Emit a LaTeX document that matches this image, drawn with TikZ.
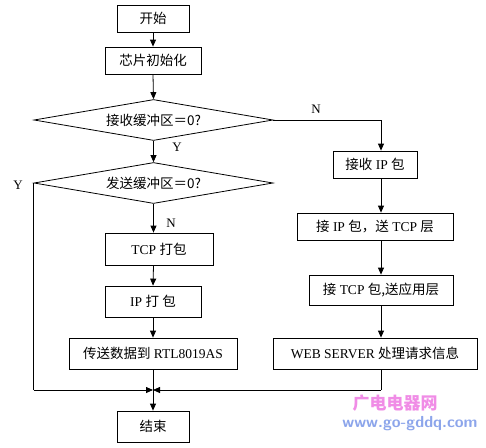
\documentclass[tikz,border=0pt]{standalone}
\usepackage{fontspec}
\setmainfont{Liberation Serif}
\newfontfamily\cjk{Noto Sans CJK SC}
\usetikzlibrary{shapes.geometric,arrows.meta}
\definecolor{wmpink}{RGB}{240,140,230}
\definecolor{wmblue}{RGB}{140,165,235}
\tikzset{
  box/.style={draw, line width=0.8pt, inner sep=0pt, fill=white},
  dia/.style={draw, line width=0.8pt, diamond, aspect=5.83, minimum width=239pt, minimum height=41pt, inner sep=0pt},
  arr/.style={line width=0.8pt, -{Triangle[width=6pt,length=7pt]}},
  ln/.style={line width=0.8pt},
  lab/.style={inner sep=0pt, font=\fontsize{13}{15}\selectfont},
}
\begin{document}
\begin{tikzpicture}[x=1pt,y=-1pt, every node/.append style={font=\fontsize{13.5}{16}\selectfont}]
\useasboundingbox[fill=white] (0,0) rectangle (486,447);
% left column
\node[box, minimum width=72pt, minimum height=27pt] (start) at (153,18.5) {\cjk 开始};
\node[box, minimum width=96pt, minimum height=27pt] (init) at (153,60.5) {\cjk 芯片初始化};
\node[dia] (d1) at (153.5,120) {\cjk 接收缓冲区＝0?};
\node[dia] (d2) at (153.5,183) {\cjk 发送缓冲区＝0?};
\node[box, minimum width=108pt, minimum height=32pt] (tcp) at (159,249) {TCP {\cjk 打包}};
\node[box, minimum width=96pt, minimum height=31pt] (ip) at (153,301.5) {IP {\cjk 打} {\cjk 包}};
\node[box, minimum width=168pt, minimum height=31pt] (send) at (153,353.5) {{\cjk 传送数据到} RTL8019AS};
\node[box, minimum width=72pt, minimum height=31pt] (end) at (153,426.5) {\cjk 结束};
% right column
\node[box, minimum width=84pt, minimum height=27pt] (rip) at (375,164.5) {{\cjk 接收} IP {\cjk 包}};
\node[box, minimum width=156pt, minimum height=27pt] (rtcp) at (375,226.5) {{\cjk 接} IP {\cjk 包，送} TCP {\cjk 层}};
\node[box, minimum width=144pt, minimum height=30pt] (rapp) at (381,290) {{\cjk 接} TCP {\cjk 包,送应用层}};
\node[box, minimum width=204pt, minimum height=31pt] (web) at (375,353.5) {WEB SERVER {\cjk 处理请求信息}};
\coordinate (merge) at (153,390);
\coordinate (rtop) at (381,120);
% connectors
\draw[arr] (start.south) -- (init.north);
\draw[arr] (init.south) -- (d1.north);
\draw[arr] (d1.south) -- (d2.north);
\draw[arr] (d2.south) -- (d2.south |- tcp.north);
\draw[arr] (d2.south |- tcp.south) -- (ip.north);
\draw[arr] (ip.south) -- (send.north);
\draw[arr] (send.south) -- (end.north);
\draw[ln] (d1.east) -- (rtop);
\draw[arr] (rtop) -- (rtop |- rip.north);
\draw[arr] (rtop |- rip.south) -- (rtop |- rtcp.north);
\draw[arr] (rtop |- rtcp.south) -- (rapp.north);
\draw[arr] (rapp.south) -- (rapp.south |- web.north);
\draw[ln] (d2.west) -- (d2.west |- merge);
\draw[arr] (d2.west |- merge) -- (merge);
\draw[ln] (rapp.south |- web.south) -- (rapp.south |- merge);
\draw[arr] (rapp.south |- merge) -- (merge);
% labels
\node[lab] (y1) at (177,147) {Y};
\node[lab] (y2) at (18,185) {Y};
\node[lab] (n1) at (171,223) {N};
\node[lab] (n2) at (316,109) {N};
% watermark
\node[inner sep=0pt, text=wmpink, font=\cjk\bfseries\fontsize{17}{18}\selectfont] (wm1) at (395,403) {广电电器网};
\node[inner sep=0pt, text=wmblue, font=\sffamily\bfseries\fontsize{16}{17}\selectfont] (wm2) at (410,424) {www.go-gddq.com};
\end{tikzpicture}
\end{document}
